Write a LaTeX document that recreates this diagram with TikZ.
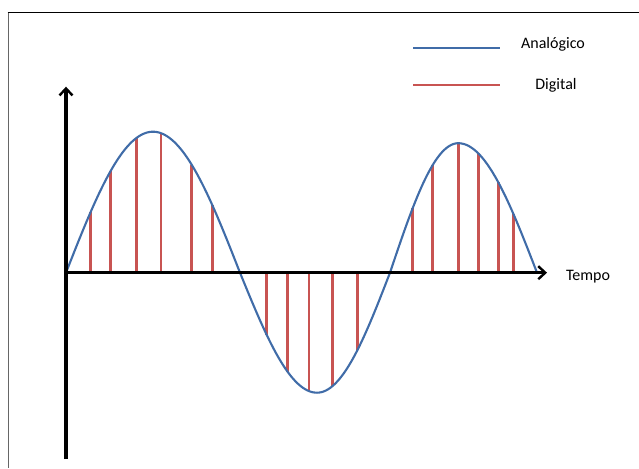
\documentclass[tikz,border=0pt]{standalone}
\usepackage{fontspec}
\setmainfont{Carlito}
\usetikzlibrary{arrows.meta}
\definecolor{analogblue}{RGB}{64,108,168}
\definecolor{digitalred}{RGB}{200,84,82}
\tikzset{
  axisline/.style={line width=3.1pt, black, -{Straight Barb[length=7pt,width=13pt,line width=2.4pt]}},
  analog/.style={line width=2.1pt, analogblue},
  digital/.style={line width=2.6pt, digitalred},
  lbl/.style={font=\fontsize{16}{18}\selectfont, anchor=base, inner sep=0pt},
}
\begin{document}
\begin{tikzpicture}[x=1pt,y=-1pt]
\useasboundingbox (0,0) rectangle (639,468);
% frame
\draw[gray!80!black, line width=1.3pt] (8.3,12.3) -- (8.3,468);
\draw[black, line width=1pt] (7.6,12.3) -- (639,12.3);
% digital samples: x / start / width / amplitude
\foreach \x/\s/\w/\A in {90.7/66/87/141, 110.7/66/87/141, 136.7/66/87/141, 161/66/87/141, 191.7/66/87/141, 212.3/66/87/141,
                         266.7/240/77/-120, 287.7/240/77/-120, 309/240/77/-120, 332.3/244/73/-120, 357.3/244/73/-120,
                         412.7/390/68.3/129.5, 432.7/390/68.3/129.5, 458.3/390/68.3/129.5, 478.3/379.6/78.7/129.5, 498.3/379.6/78.7/129.5, 513.3/379.6/78.7/129.5}
  \draw[digital] (\x,272.7) -- (\x,{272.7-\A*sin(90*(\x-\s)/\w)});
% analog curve
\draw[analog, line join=round]
  plot[domain=66:240, samples=80] (\x,{272.7-141*sin(90*(\x-66)/87)})
  -- plot[domain=240:317, samples=40] (\x,{272.7+120*sin(90*(\x-240)/77)})
  -- plot[domain=317:390, samples=40] (\x,{272.7+120*sin(90*(\x-244)/73)})
  -- plot[domain=390:458.3, samples=40] (\x,{272.7-129.5*sin(90*(\x-390)/68.3)})
  -- plot[domain=458.3:537, samples=40] (\x,{272.7-129.5*sin(90*(\x-379.6)/78.7)});
% axes
\coordinate (ybot) at (66,459);
\coordinate (ytop) at (66,86.7);
\coordinate (orig) at (66,272.7);
\coordinate (xend) at (547,272.7);
\draw[axisline] (ybot) -- (ytop);
\draw[axisline] (orig) -- (xend);
\node[lbl] (tempo) at (588,280.3) {Tempo};
% legend
\coordinate (la1) at (413,48);
\coordinate (la2) at (500,48);
\coordinate (ld1) at (413,85);
\coordinate (ld2) at (500,85);
\draw[analog] (la1) -- (la2);
\draw[digital] (ld1) -- (ld2);
\node[lbl] (analogico) at (553,49) {Analógico};
\node[lbl] (digital) at (556,90) {Digital};
\end{tikzpicture}
\end{document}
